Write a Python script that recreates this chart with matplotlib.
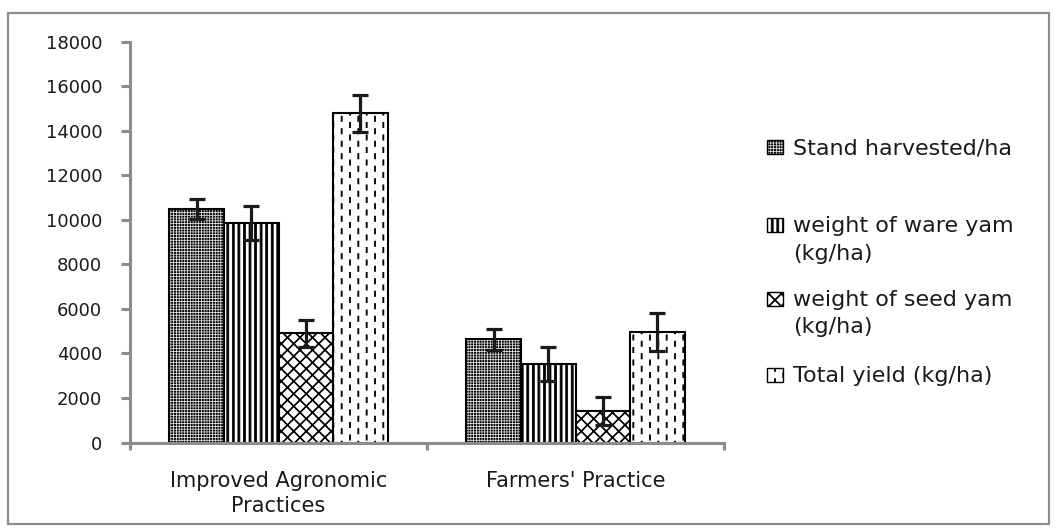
import numpy as np
import matplotlib
matplotlib.use("Agg")
import matplotlib.pyplot as plt
import matplotlib.hatch as mhatch
from matplotlib.path import Path
from matplotlib.patches import Rectangle

# ---------------- data ----------------
categories = ["Improved Agronomic\nPractices", "Farmers' Practice"]
series_names = ["Stand harvested/ha", "weight of ware yam\n(kg/ha)",
                "weight of seed yam\n(kg/ha)", "Total yield (kg/ha)"]
stand = [10480, 4630]
stand_err = [455, 460]
ware = [9850, 3525]
ware_err = [760, 750]
seed = [4900, 1420]
seed_err = [620, 615]
total = [14780, 4970]
total_err = [840, 860]
y_ticks = [0, 2000, 4000, 6000, 8000, 10000, 12000, 14000, 16000, 18000]


# ---------------- custom hatch patterns (hatch tile = 100 px at dpi 100) ----------------
def _rect(cx, cy, hw, hh):
    return [(cx - hw, cy - hh), (cx + hw, cy - hh), (cx + hw, cy + hh), (cx - hw, cy + hh)]


class _PolyHatch:
    char = ""

    def __init__(self, hatch, density):
        self.polys = self.make() if (hatch and self.char in hatch) else []
        self.num_vertices = sum(len(p) + 1 for p in self.polys)

    def make(self):
        return []

    def set_vertices_and_codes(self, vertices, codes):
        i = 0
        for p in self.polys:
            k = len(p)
            vertices[i:i + k] = p
            vertices[i + k] = p[0]
            codes[i] = Path.MOVETO
            codes[i + 1:i + k] = Path.LINETO
            codes[i + k] = Path.CLOSEPOLY
            i += k + 1


class DotHatch(_PolyHatch):
    char = "."

    def make(self):
        n = 36
        return [_rect(i / n, j / n, 0.006, 0.006)
                for i in range(n + 1) for j in range(n + 1)]


class StripeHatch(_PolyHatch):
    char = "|"

    def make(self):
        n = 18
        return [_rect(i / n, 0.5, 0.0095, 0.6) for i in range(n + 1)]


class LatticeHatch(_PolyHatch):
    char = "x"

    def make(self):
        n = 8
        h = 0.006
        x0, x1 = -0.2, 1.2
        polys = []
        for k in range(-n - 3, n + 4):
            c = k / n
            polys.append([(x0 - h, x0 + c), (x1 - h, x1 + c), (x1 + h, x1 + c), (x0 + h, x0 + c)])
        for k in range(-3, 2 * n + 4):
            c = k / n
            polys.append([(x0 - h, -x0 + c), (x1 - h, -x1 + c), (x1 + h, -x1 + c), (x0 + h, -x0 + c)])
        return polys


class DashHatch(_PolyHatch):
    char = "-"

    def make(self):
        nc, nr = 12, 8
        polys = []
        for i in range(nc + 1):
            off = 0.5 / nr if i % 2 else 0.0
            for j in range(-1, nr + 2):
                polys.append(_rect(i / nc, j / nr + off, 0.005, 0.026))
        return polys


mhatch._hatch_types = [DotHatch, StripeHatch, LatticeHatch, DashHatch]
plt.rcParams["hatch.linewidth"] = 0.6
plt.rcParams["font.family"] = ["DejaVu Sans"]

# ---------------- figure ----------------
W, H = 1056, 531
fig = plt.figure(figsize=(W / 100, H / 100), dpi=100)
fig.patch.set_facecolor("white")
ax = fig.add_axes([130 / W, (H - 442.5) / H, (724 - 130) / W, (442.5 - 41.7) / H])

series = [stand, ware, seed, total]
errors = [stand_err, ware_err, seed_err, total_err]
hatches = [".", "|", "x", "-"]
x = np.arange(len(categories))
bw = 0.184
for k, (vals, err, hp) in enumerate(zip(series, errors, hatches)):
    pos = x + (k - 1.5) * bw
    ax.bar(pos, vals, bw, facecolor="white", edgecolor="black", linewidth=1.5,
           hatch=hp, zorder=2)
    ax.errorbar(pos, vals, yerr=err, fmt="none", ecolor="#1a1a1a", elinewidth=2.3,
                capsize=5.5, capthick=2.3, zorder=3)

ax.set_xlim(-0.5, 1.5)
ax.set_ylim(0, 18000)
for s in ["top", "right"]:
    ax.spines[s].set_visible(False)
for s in ["left", "bottom"]:
    ax.spines[s].set_color("#8c8c8c")
    ax.spines[s].set_linewidth(2.2)

ax.set_yticks(y_ticks)
ax.set_yticklabels([str(v) for v in y_ticks])
ax.tick_params(axis="y", length=6.5, width=2.2, color="#8c8c8c", pad=13.5,
               labelsize=13, labelcolor="#1a1a1a")
ax.set_xticks([-0.5, 0.5, 1.5])
ax.set_xticklabels([])
ax.set_xticks(x, minor=True)
ax.set_xticklabels(categories, minor=True, linespacing=1.3)
ax.tick_params(axis="x", which="major", length=5, width=2.2, color="#8c8c8c")
ax.tick_params(axis="x", which="minor", length=0, pad=20.5, labelsize=15,
               labelcolor="#1a1a1a")

# ---------------- legend (handles aligned with first text line) ----------------
leg_y = [147, 225, 298.5, 375]
fs_leg = 16
for name, hp, yc in zip(series_names, hatches, leg_y):
    fig.add_artist(Rectangle((767 / W, 1 - (yc + 7) / H), 16 / W, 14 / H,
                             transform=fig.transFigure, facecolor="white",
                             edgecolor="black", linewidth=1.0, hatch=hp))
    top = yc - 0.3955 * fs_leg * 100 / 72
    fig.text(793 / W, 1 - top / H, name, fontsize=fs_leg, va="top", ha="left",
             color="#1a1a1a", linespacing=1.46)

# ---------------- outer border ----------------
fig.add_artist(Rectangle((8 / W, 1 - 524 / H), (1049 - 8) / W, (524 - 13) / H,
                         transform=fig.transFigure, fill=False,
                         edgecolor="#8c8c8c", linewidth=1.6))

fig.savefig("out.png", dpi=100)
